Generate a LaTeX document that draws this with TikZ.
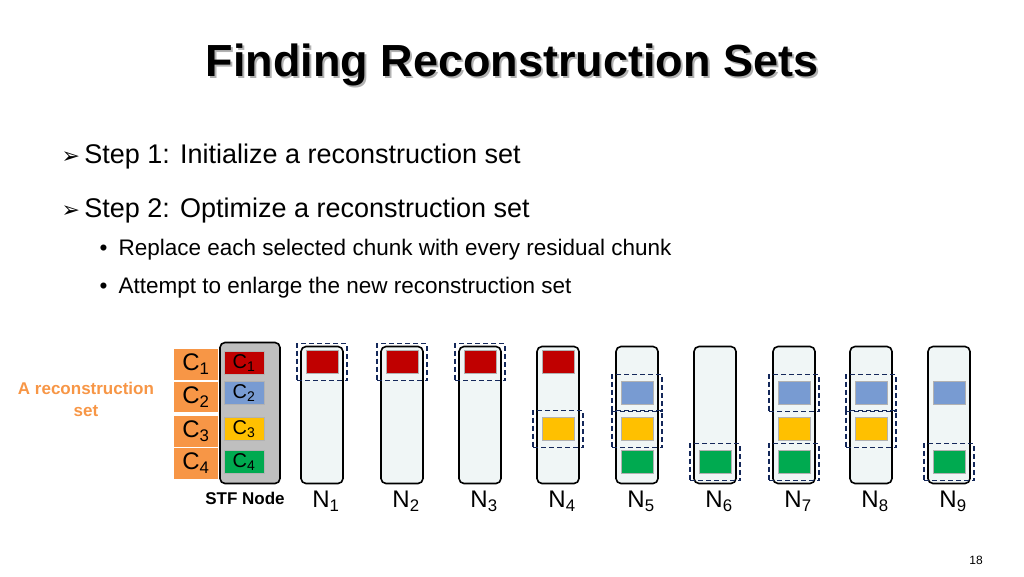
\documentclass[tikz,border=0pt]{standalone}
\usepackage{fontspec}
\setmainfont{Liberation Sans}
\newfontfamily\symfont{DejaVu Sans}
\usetikzlibrary{positioning}
\definecolor{chred}{RGB}{192,0,0}
\definecolor{chblue}{RGB}{120,155,210}
\definecolor{chyellow}{RGB}{255,192,0}
\definecolor{chgreen}{RGB}{0,170,80}
\definecolor{setorange}{RGB}{247,150,70}
\definecolor{boxfill}{RGB}{240,246,246}
\definecolor{dashblue}{RGB}{20,40,90}
\newcommand{\sub}[1]{\textsubscript{#1}}

\begin{document}
\begin{tikzpicture}[x=1pt, y=-1pt,
  node distance=0pt,
  datanode/.style={draw, line width=1.6pt, rounded corners=5pt, fill=boxfill, minimum width=42pt, minimum height=137pt, inner sep=0pt},
  chunk/.style={draw=gray!60, line width=0.8pt, minimum width=32pt, minimum height=23pt, inner sep=0pt, font=\fontsize{20}{20}\selectfont},
  sel/.style={draw=dashblue, dash pattern=on 5pt off 3pt, line width=1.8pt, minimum width=50pt, minimum height=37pt, inner sep=0pt},
  setcell/.style={fill=setorange, minimum width=44pt, minimum height=31pt, inner sep=0pt, font=\fontsize{24}{24}\selectfont},
  nlabel/.style={font=\fontsize{24}{24}\selectfont}
]
\useasboundingbox (0,0) rectangle (1024,576);
% title and bullets
\node[font=\fontsize{45}{45}\bfseries, text=gray!60] (shadow) at (514,67) {Finding Reconstruction Sets};
\node[font=\fontsize{45}{45}\bfseries] (title) at (512,65) {Finding Reconstruction Sets};
\node[anchor=west, font=\fontsize{27}{30}\selectfont] (step1) at (58,157) {{\symfont\fontsize{22}{22}\selectfont ➢}\,Step 1: Initialize a reconstruction set};
\node[anchor=west, font=\fontsize{27}{30}\selectfont] (step2) at (58,211) {{\symfont\fontsize{22}{22}\selectfont ➢}\,Step 2: Optimize a reconstruction set};
\node[anchor=west, font=\fontsize{22.5}{24}\selectfont] (sub1) at (96,250) {•\enspace Replace each selected chunk with every residual chunk};
\node[anchor=west, font=\fontsize{22.5}{24}\selectfont] (sub2) at (96,288) {•\enspace Attempt to enlarge the new reconstruction set};
% reconstruction set
\node[align=center, text=setorange, font=\fontsize{17}{22}\bfseries] (setlabel) at (86,399) {A reconstruction\\set};
\foreach \i/\y in {1/364,2/397,3/431,4/463}
  \node[setcell] (c\i) at (196,\y) {C\sub{\i}};
\draw[white, line width=1.2pt] (c2.south west) -- (c2.south east);
% STF node
\node[datanode, fill=gray!50, minimum width=60pt, minimum height=141pt] (stf) at (250,413) {};
\foreach \i/\y/\c in {1/363/chred,2/393/chblue,3/429/chyellow,4/462/chgreen}
  \node[chunk, fill=\c, minimum width=40pt] (s\i) at (244,\y) {C\sub{\i}};
\node[font=\fontsize{17}{17}\bfseries] (stflabel) at (245,498) {STF Node};
% data nodes
\foreach \n/\x in {1/322,2/402,3/480,4/558,5/637,6/715,7/794,8/871,9/949}{
  \node[datanode] (n\n) at (\x,415) {};
  \node[nlabel] (l\n) at (\x+4,501) {N\sub{\n}};
}
% chunks on data nodes
\foreach \n/\x in {1/322,2/402,3/480,4/558} \node[chunk, fill=chred] (r\n) at (\x,362) {};
\foreach \n/\x in {5/637,7/794,8/871,9/949} \node[chunk, fill=chblue] (b\n) at (\x,393) {};
\foreach \n/\x in {4/558,5/637,7/794,8/871} \node[chunk, fill=chyellow] (y\n) at (\x,429) {};
\foreach \n/\x in {5/637,6/715,7/794,9/949} \node[chunk, fill=chgreen] (g\n) at (\x,462) {};
% selected chunks
\foreach \c in {r1,r2,r3,y4,b5,y5,g6,b7,g7,b8,y8,g9}
  \node[sel] (d\c) at (\c) {};
\node[font=\fontsize{12}{12}\selectfont] (page) at (976,560) {18};
\end{tikzpicture}
\end{document}
